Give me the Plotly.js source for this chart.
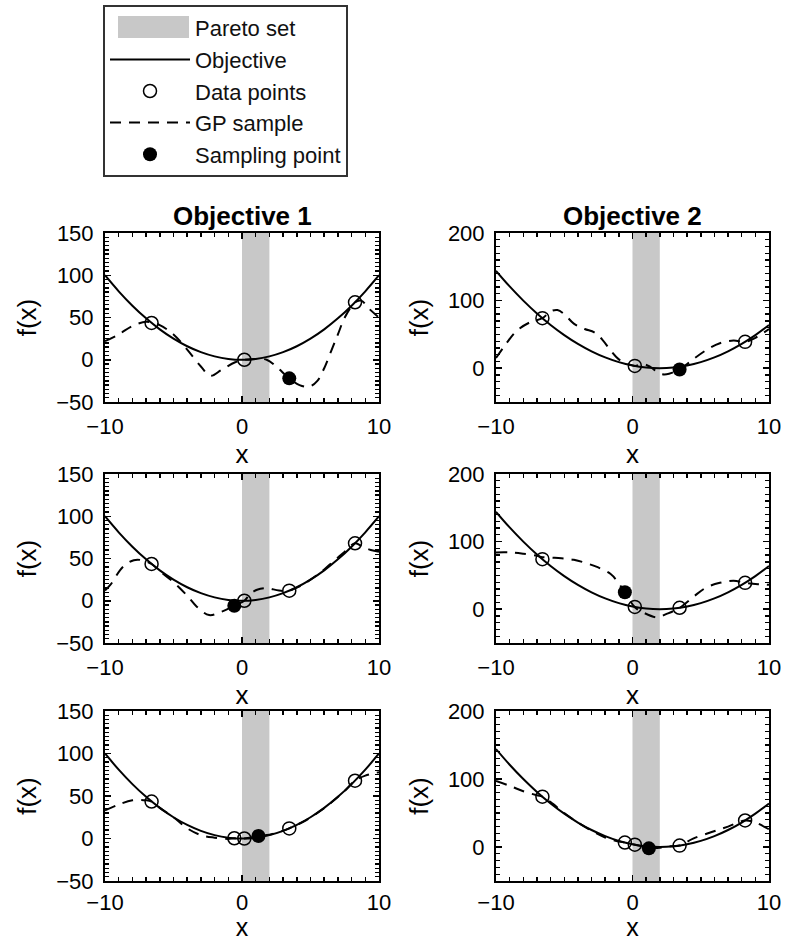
<!DOCTYPE html>
<html>
<head>
<meta charset="utf-8">
<script src="https://cdn.plot.ly/plotly-3.0.1.min.js"></script>
<style>
html,body{margin:0;padding:0;background:#fff;}
#chart{width:785px;height:941px;}
</style>
</head>
<body>
<div id="chart"></div>
<script>
// ---------------- DATA ----------------
const paretoSet = [0, 2];

// Objective curves read at integer x
const objX = [-10,-9,-8,-7,-6,-5,-4,-3,-2,-1,0,1,2,3,4,5,6,7,8,9,10];
const obj1Y = [100,81,64,49,36,25,16,9,4,1,0,1,4,9,16,25,36,49,64,81,100];
const obj2Y = [144,121,100,81,64,49,36,25,16,9,4,1,0,1,4,9,16,25,36,49,64];

// Data points per iteration (rows)
const dataX1 = [-6.6, 0.17, 8.25];
const dataX2 = [-6.6, 0.17, 3.45, 8.25];
const dataX3 = [-6.6, -0.56, 0.17, 3.45, 8.25];
const data1Obj1 = [43.5, 0.0, 68];
const data1Obj2 = [74, 3.4, 39];
const data2Obj1 = [43.5, 0.0, 11.9, 68];
const data2Obj2 = [74, 3.4, 2.1, 39];
const data3Obj1 = [43.5, 0.3, 0.0, 11.9, 68];
const data3Obj2 = [74, 6.6, 3.4, 2.1, 39];

// Sampling points
const sampX = [3.45, -0.56, 1.2];
const samp1Obj1 = [-22];
const samp1Obj2 = [-2];
const samp2Obj1 = [-6];
const samp2Obj2 = [25];
const samp3Obj1 = [3];
const samp3Obj2 = [-2];

// GP samples (dashed)
const gp1Obj1X = [-10,-9,-8,-7,-6.6,-6,-5,-4,-3,-2.3,-1.5,-0.5,0.17,1,1.8,2.5,3.45,4.2,4.9,5.5,6,6.5,7,7.5,8.25,8.7,9.3,10];
const gp1Obj1Y = [22,30,40,45,44,41,30,12,-8,-19,-12,-3,0,1,0,-8,-22,-30,-32,-25,-10,10,30,50,68,70,60,50];
const gp1Obj2X = [-10,-9.3,-8.5,-7.5,-6.6,-6,-5.5,-5,-4.3,-3.5,-2.8,-2.2,-1.6,-1,-0.3,0.17,0.8,1.3,2,2.5,3,3.45,4,4.5,5.5,6.4,7.4,8.25,9,10];
const gp1Obj2Y = [15,35,55,68,74,84,86,80,66,58,53,42,26,13,6,3.4,6,2,-8,-9,-6,-2,6,14,28,37,41,39,45,58];
const gp2Obj1X = [-10,-9.6,-8.7,-7.9,-7.3,-6.6,-6,-5,-4,-3.3,-2.4,-1.5,-0.56,0.17,0.6,1.1,1.8,2.7,3.45,4.2,5,6,6.7,7.5,8.25,8.8,9.4,10];
const gp2Obj1Y = [12,19,40,48,48,43.5,35,22,6,-7,-17,-13,-6,0,8,13,15,12,12,17,25,37,47,58,68,64,60,58];
const gp2Obj2X = [-10,-9,-8,-7,-6.6,-5.7,-4.3,-2.8,-1.6,-1,-0.56,0.17,0.8,1.8,2.5,3.45,4.5,5.4,6.4,7.4,8.25,9.2,10];
const gp2Obj2Y = [84,84,82,79,77,76,73,64,52,38,25,3,-5,-12,-7,2,19,32,39,42,39,37,36];
const gp3Obj1X = [-10,-9,-8,-7,-6.6,-6,-5,-4,-3,-2,-1,-0.56,0.17,0.8,1.2,2,2.8,3.45,4.5,5.5,6.5,7.5,8.25,9,10];
const gp3Obj1Y = [33,40,45,45,43.5,36,25,12,4,1,-0.5,0.3,0,1.5,3,4.5,8,12,20,30,42,56,68,74,78];
const gp3Obj2X = [-10,-9,-8,-7,-6.6,-6,-5,-4,-3,-2,-1,-0.56,0.17,0.7,1.2,2,2.8,3.45,4.4,5.8,7,8.25,9,10];
const gp3Obj2Y = [97,90,82,76,74,66,50,36,24,14,8,6.6,3.4,1,-2,-1,1,2.1,12,22,30,39,36,26];

const rows = [
  {dx: dataX1, d1: data1Obj1, d2: data1Obj2, sx: [sampX[0]], s1: samp1Obj1, s2: samp1Obj2,
   g1x: gp1Obj1X, g1y: gp1Obj1Y, g2x: gp1Obj2X, g2y: gp1Obj2Y},
  {dx: dataX2, d1: data2Obj1, d2: data2Obj2, sx: [sampX[1]], s1: samp2Obj1, s2: samp2Obj2,
   g1x: gp2Obj1X, g1y: gp2Obj1Y, g2x: gp2Obj2X, g2y: gp2Obj2Y},
  {dx: dataX3, d1: data3Obj1, d2: data3Obj2, sx: [sampX[2]], s1: samp3Obj1, s2: samp3Obj2,
   g1x: gp3Obj1X, g1y: gp3Obj1Y, g2x: gp3Obj2X, g2y: gp3Obj2Y}
];

// ---------------- LAYOUT ----------------
const W = 785, H = 941;
const colPx = [[105, 379], [496, 769]];
const rowPx = [[233, 402], [474, 643], [711, 881]];
const FONT = 'Liberation Sans, Arial, Helvetica, sans-serif';
const PARETO_COLOR = '#c8c8c8';

const traces = [];
const layout = {
  width: W, height: H,
  margin: {l: 0, r: 0, t: 0, b: 0},
  paper_bgcolor: '#fff', plot_bgcolor: 'rgba(0,0,0,0)',
  font: {family: FONT, color: '#000', size: 22},
  showlegend: true,
  legend: {
    x: 103 / W, y: 1 - 5 / H, xanchor: 'left', yanchor: 'top',
    bordercolor: '#333', borderwidth: 2, bgcolor: 'rgba(255,255,255,0)',
    font: {family: FONT, size: 22, color: '#111'},
    itemwidth: 80, tracegroupgap: 0
  },
  shapes: [
    // legend swatch for the Pareto set (wide grey patch)
    {type: 'rect', xref: 'paper', yref: 'paper', layer: 'above',
     x0: 118 / W, x1: 189 / W, y0: 1 - 38 / H, y1: 1 - 16 / H,
     fillcolor: PARETO_COLOR, line: {width: 0}}
  ],
  annotations: []
};

const lineCol = '#000';
let idx = 0;
for (let r = 0; r < 3; r++) {
  for (let c = 0; c < 2; c++) {
    idx++;
    const xa = 'xaxis' + (idx === 1 ? '' : idx);
    const ya = 'yaxis' + (idx === 1 ? '' : idx);
    const xr = 'x' + (idx === 1 ? '' : idx);
    const yr = 'y' + (idx === 1 ? '' : idx);
    const isObj1 = c === 0;
    const lastRow = r === 2;
    layout[xa] = {
      domain: [colPx[c][0] / W, colPx[c][1] / W],
      anchor: yr, range: [-10, 10], tick0: 0, dtick: 10,
      ticks: 'inside', ticklen: 6, tickwidth: 1.5, tickcolor: lineCol,
      mirror: 'allticks', showline: true, linecolor: lineCol, linewidth: 2,
      showgrid: false, zeroline: false, ticklabelstandoff: lastRow ? 1 : 4,
      minor: {tickmode: 'linear', dtick: 1, ticks: 'inside', ticklen: 4, tickwidth: 1.5, tickcolor: lineCol, showgrid: false},
      tickfont: {size: 22, family: FONT},
      title: {text: 'x', font: {size: lastRow ? 25 : 26, family: FONT}, standoff: lastRow ? 0 : 1}
    };
    layout[ya] = {
      domain: [1 - rowPx[r][1] / H, 1 - rowPx[r][0] / H],
      anchor: xr,
      range: isObj1 ? [-50, 150] : [-50, 200], tick0: 0, dtick: isObj1 ? 50 : 100,
      ticks: 'inside', ticklen: 6, tickwidth: 1.5, tickcolor: lineCol,
      mirror: 'allticks', showline: true, linecolor: lineCol, linewidth: 2,
      showgrid: false, zeroline: false, ticklabelstandoff: 5,
      minor: {tickmode: 'linear', dtick: isObj1 ? 5 : 10, ticks: 'inside', ticklen: 4, tickwidth: 1.3, tickcolor: lineCol, showgrid: false},
      tickfont: {size: 22, family: FONT},
      title: {text: 'f(x)', font: {size: 26, family: FONT}, standoff: 12}
    };
    // Pareto set band
    layout.shapes.push({
      type: 'rect', xref: xr, yref: yr + ' domain', layer: 'below',
      x0: paretoSet[0], x1: paretoSet[1], y0: 0, y1: 1,
      fillcolor: PARETO_COLOR, line: {width: 0}
    });
    if (r === 0) {
      layout.annotations.push({
        xref: xr + ' domain', yref: yr + ' domain', x: 0.5, y: 1, yanchor: 'bottom', yshift: 0,
        text: '<b>Objective ' + (c + 1) + '</b>', showarrow: false,
        font: {size: 26, family: FONT, color: '#000'}
      });
    }
    const R = rows[r];
    const leg = idx === 1;
    if (leg) {
      // legend entry for the grey Pareto band (swatch drawn as a paper shape)
      traces.push({
        type: 'scatter', x: [null], y: [null], xaxis: xr, yaxis: yr,
        mode: 'lines', line: {width: 0, color: 'rgba(0,0,0,0)'},
        name: 'Pareto set', showlegend: true, hoverinfo: 'skip'
      });
    }
    traces.push({
      type: 'scatter', x: objX, y: isObj1 ? obj1Y : obj2Y, xaxis: xr, yaxis: yr,
      mode: 'lines', line: {color: lineCol, width: 2, shape: 'spline'},
      name: 'Objective', showlegend: leg
    });
    traces.push({
      type: 'scatter', x: R.dx, y: isObj1 ? R.d1 : R.d2, xaxis: xr, yaxis: yr,
      mode: 'markers', marker: {symbol: 'circle-open', size: 13, color: lineCol, line: {width: 1.5, color: lineCol}},
      name: 'Data points', showlegend: leg
    });
    traces.push({
      type: 'scatter', x: isObj1 ? R.g1x : R.g2x, y: isObj1 ? R.g1y : R.g2y, xaxis: xr, yaxis: yr,
      mode: 'lines', line: {color: lineCol, width: 2, dash: '11px,8px', shape: 'spline', smoothing: 1},
      name: 'GP sample', showlegend: leg
    });
    traces.push({
      type: 'scatter', x: R.sx, y: isObj1 ? R.s1 : R.s2, xaxis: xr, yaxis: yr,
      mode: 'markers', marker: {symbol: 'circle', size: 14, color: lineCol},
      name: 'Sampling point', showlegend: leg
    });
  }
}

Plotly.newPlot('chart', traces, layout, {staticPlot: true, displayModeBar: false});
</script>
</body>
</html>
